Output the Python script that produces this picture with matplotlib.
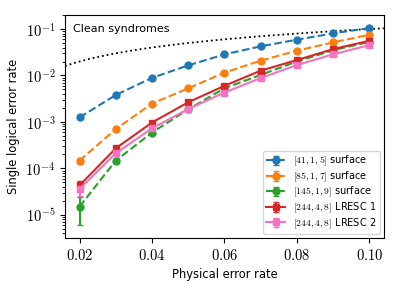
import numpy as np
import matplotlib
matplotlib.use('Agg')
import matplotlib.pyplot as plt
from matplotlib.ticker import FuncFormatter

plt.rcParams['mathtext.fontset'] = 'cm'
plt.rcParams['font.family'] = 'DejaVu Sans'

# Physical error rates
p = [0.02, 0.03, 0.04, 0.05, 0.06, 0.07, 0.08, 0.09, 0.10]

# Single logical error rates
surf5  = [1.25e-3, 3.8e-3, 8.9e-3, 1.65e-2, 2.85e-2, 4.25e-2, 5.9e-2, 8.1e-2, 1.05e-1]
surf7  = [1.47e-4, 7.0e-4, 2.48e-3, 5.3e-3, 1.15e-2, 2.09e-2, 3.42e-2, 5.16e-2, 7.55e-2]
surf9  = [1.5e-5, 1.47e-4, 5.9e-4, 1.87e-3, 5.3e-3, 1.03e-2, 2.0e-2, 3.5e-2, 5.3e-2]
lresc1 = [4.3e-5, 2.7e-4, 9.7e-4, 2.65e-3, 6.0e-3, 1.27e-2, 2.15e-2, 3.7e-2, 5.6e-2]
lresc2 = [3.6e-5, 2.1e-4, 7.3e-4, 1.9e-3, 4.3e-3, 8.8e-3, 1.68e-2, 2.86e-2, 4.5e-2]

# Error bar half-widths (mostly tiny)
surf5_err  = [0.1e-3, 0.2e-3, 0.3e-3, 0.4e-3, 0.5e-3, 0.6e-3, 0.7e-3, 0.8e-3, 0.9e-3]
surf7_err  = [2.0e-5, 4e-5, 1e-4, 1.5e-4, 2e-4, 3e-4, 4e-4, 5e-4, 6e-4]
surf9_err  = [9.0e-6, 1.5e-5, 4e-5, 8e-5, 1.5e-4, 2e-4, 3e-4, 4e-4, 5e-4]
lresc1_err = [1.0e-5, 2.5e-5, 5e-5, 1e-4, 1.5e-4, 2.5e-4, 3e-4, 4e-4, 5e-4]
lresc2_err = [1.0e-5, 2.2e-5, 4.5e-5, 9e-5, 1.4e-4, 2e-4, 2.8e-4, 3.5e-4, 4.5e-4]

labels = [r'$[41,1,5]$ surface', r'$[85,1,7]$ surface', r'$[145,1,9]$ surface',
          r'$[244,4,8]$ LRESC 1', r'$[244,4,8]$ LRESC 2']

fig, ax = plt.subplots(figsize=(3.99, 2.9), dpi=100)

ax.errorbar(p, surf5, yerr=surf5_err, fmt='o--', color='tab:blue', ms=5, capsize=2.5, label=labels[0])
ax.errorbar(p, surf7, yerr=surf7_err, fmt='o--', color='tab:orange', ms=5, capsize=2.5, label=labels[1])
ax.errorbar(p, surf9, yerr=surf9_err, fmt='o--', color='tab:green', ms=5, capsize=2.5, label=labels[2])
ax.errorbar(p, lresc1, yerr=lresc1_err, fmt='s-', color='tab:red', ms=5, capsize=2.5, label=labels[3])
ax.errorbar(p, lresc2, yerr=lresc2_err, fmt='s-', color='#f772c0', ms=5, capsize=2.5, label=labels[4])

ax.set_yscale('log')
ax.set_xlim(0.016, 0.104)
ax.set_ylim(3.2e-6, 0.2)

# reference curve: logical rate equal to physical rate
xs = np.linspace(0.016, 0.104, 100)
ax.plot(xs, xs, ':', color='black', lw=1.3)

ax.set_xticks([0.02, 0.04, 0.06, 0.08, 0.10])
ax.set_xticklabels([r'$0.02$', r'$0.04$', r'$0.06$', r'$0.08$', r'$0.10$'])
ax.yaxis.set_major_formatter(FuncFormatter(lambda v, pos: r'$10^{%d}$' % round(np.log10(v))))
ax.tick_params(labelsize=10.5)
ax.set_xlabel('Physical error rate', fontsize=8.3)
ax.set_ylabel('Single logical error rate', fontsize=8.3)
ax.text(0.025, 0.96, 'Clean syndromes', transform=ax.transAxes, fontsize=8, va='top', ha='left')

ax.legend(loc='lower right', fontsize=7, handlelength=2.0, labelspacing=0.12,
          borderpad=0.35, borderaxespad=0.4)

plt.subplots_adjust(left=0.163, right=0.962, top=0.948, bottom=0.18)
plt.savefig('out.png', dpi=100)
